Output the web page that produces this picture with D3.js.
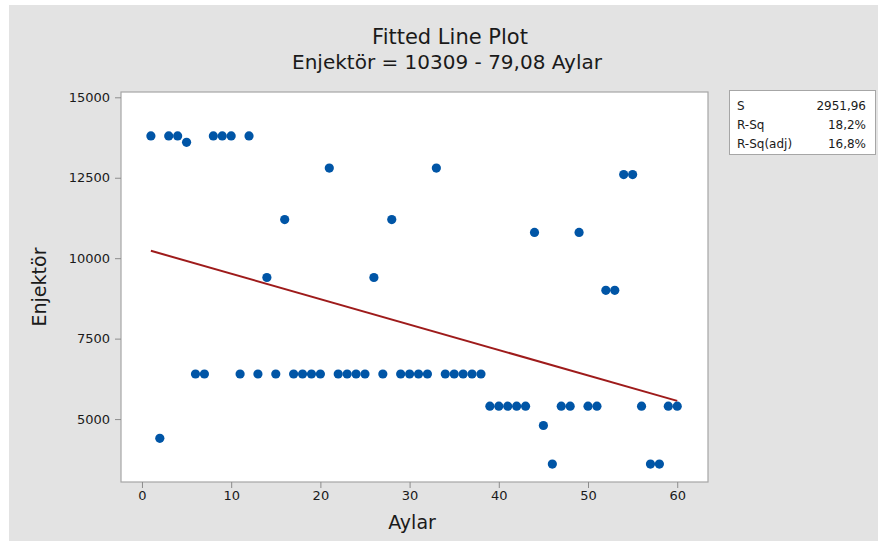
<!DOCTYPE html>
<html>
<head>
<meta charset="utf-8">
<script src="https://cdn.jsdelivr.net/npm/d3@7"></script>
<style>
  html, body { margin: 0; padding: 0; background: #ffffff; }
  svg { display: block; }
  text { font-family: "DejaVu Sans", Verdana, sans-serif; fill: #1a1a1a; }
</style>
</head>
<body>
<svg id="chart" width="878" height="541"></svg>
<script>
// ---- Data ----
const aylar = [1,2,3,4,5,6,7,8,9,10,11,12,13,14,15,16,17,18,19,20,
               21,22,23,24,25,26,27,28,29,30,31,32,33,34,35,36,37,38,39,40,
               41,42,43,44,45,46,47,48,49,50,51,52,53,54,55,56,57,58,59,60];
const enjektor = [13800,4400,13800,13800,13600,6400,6400,13800,13800,13800,
                  6400,13800,6400,9400,6400,11200,6400,6400,6400,6400,
                  12800,6400,6400,6400,6400,9400,6400,11200,6400,6400,
                  6400,6400,12800,6400,6400,6400,6400,6400,5400,5400,
                  5400,5400,5400,10800,4800,3600,5400,5400,10800,5400,
                  5400,9000,9000,12600,12600,5400,3600,3600,5400,5400];
const fitIntercept = 10309;
const fitSlope = -79.08;
const xTicks = [0,10,20,30,40,50,60];
const yTicks = [5000,7500,10000,12500,15000];
const statLabels = ["S", "R-Sq", "R-Sq(adj)"];
const statValues = ["2951,96", "18,2%", "16,8%"];
const titleText = "Fitted Line Plot";
const subtitleText = "Enjektör = 10309 - 79,08 Aylar";
const xLabel = "Aylar";
const yLabel = "Enjektör";

// ---- Layout ----
const svg = d3.select("#chart");
const W = 878, H = 541;
const plot = { left: 121, top: 92, right: 708, bottom: 482 };

svg.append("rect").attr("x", 9).attr("y", 5).attr("width", W - 9).attr("height", H - 5)
  .attr("fill", "#e3e3e3");

const x = d3.scaleLinear().domain([-2.35, 63.45]).range([plot.left, plot.right]);
const y = d3.scaleLinear().domain([3044, 15165]).range([plot.bottom, plot.top]);

// plot background
svg.append("rect")
  .attr("x", plot.left).attr("y", plot.top)
  .attr("width", plot.right - plot.left).attr("height", plot.bottom - plot.top)
  .attr("fill", "#ffffff").attr("stroke", "#a6a6a6").attr("stroke-width", 1.2);

// axes
const xAxis = svg.append("g").attr("transform", `translate(0,${plot.bottom})`)
  .call(d3.axisBottom(x).tickValues(xTicks).tickSize(6).tickPadding(3).tickFormat(d3.format("d")));
const yAxis = svg.append("g").attr("transform", `translate(${plot.left},0)`)
  .call(d3.axisLeft(y).tickValues(yTicks).tickSize(6).tickPadding(5).tickFormat(d3.format("d")));
[xAxis, yAxis].forEach(g => {
  g.select(".domain").remove();
  g.selectAll(".tick line").attr("stroke", "#8c8c8c");
  g.selectAll(".tick text").style("font-family", "'DejaVu Sans', Verdana, sans-serif")
    .style("font-size", "13px").attr("fill", "#1a1a1a");
});

// fitted line
svg.append("line")
  .attr("x1", x(aylar[0])).attr("y1", y(fitIntercept + fitSlope * aylar[0]))
  .attr("x2", x(aylar[aylar.length - 1])).attr("y2", y(fitIntercept + fitSlope * aylar[aylar.length - 1]))
  .attr("stroke", "#9e1b1b").attr("stroke-width", 2);

// points
svg.append("g").selectAll("circle").data(aylar).join("circle")
  .attr("cx", d => x(d)).attr("cy", (d, i) => y(enjektor[i]))
  .attr("r", 4.6).attr("fill", "#0055a6");

// titles
svg.append("text").attr("x", 450).attr("y", 44).attr("text-anchor", "middle")
  .style("font-size", "21px").attr("fill", "#111").text(titleText);
svg.append("text").attr("x", 447).attr("y", 69).attr("text-anchor", "middle")
  .style("font-size", "20px").attr("fill", "#111").text(subtitleText);

svg.append("text").attr("x", 412).attr("y", 529).attr("text-anchor", "middle")
  .style("font-size", "19px").text(xLabel);
svg.append("text").attr("transform", `translate(46,287) rotate(-90)`).attr("text-anchor", "middle")
  .style("font-size", "19px").text(yLabel);

// stats box
const box = svg.append("g");
box.append("rect").attr("x", 729.5).attr("y", 90.5).attr("width", 146).attr("height", 64)
  .attr("fill", "#ffffff").attr("stroke", "#a6a6a6");
statLabels.forEach((s, i) => {
  box.append("text").attr("x", 737).attr("y", 110 + i * 19)
    .style("font-size", "12px").text(s);
  box.append("text").attr("x", 866).attr("y", 110 + i * 19).attr("text-anchor", "end")
    .style("font-size", "12px").text(statValues[i]);
});
</script>
</body>
</html>
